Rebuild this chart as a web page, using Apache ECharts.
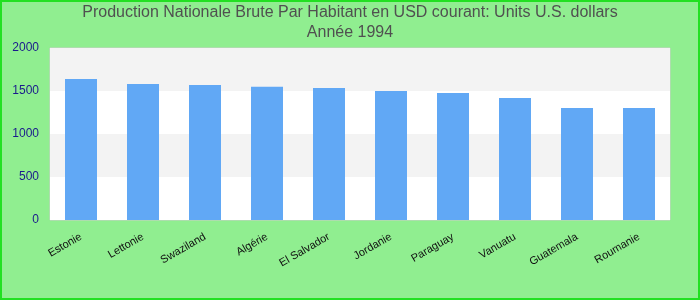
<!DOCTYPE html>
<html>
<head>
<meta charset="utf-8">
<script src="https://cdn.jsdelivr.net/npm/echarts@6/dist/echarts.min.js"></script>
<style>
html,body{margin:0;padding:0;background:#90ee90;}
#chart{width:700px;height:300px;}
</style>
</head>
<body>
<div id="chart"></div>
<script>
var categories = ['Estonie','Lettonie','Swaziland','Algérie','El Salvador','Jordanie','Paraguay','Vanuatu','Guatemala','Roumanie'];
var values = [1640, 1580, 1570, 1550, 1535, 1500, 1477, 1420, 1302, 1302];
var yTicks = [0, 500, 1000, 1500, 2000];
var titleLines = ['Production Nationale Brute Par Habitant en USD courant: Units U.S. dollars', 'Année 1994'];

var chart = echarts.init(document.getElementById('chart'), null, {renderer: 'canvas'});
chart.setOption({
  backgroundColor: '#90ee90',
  animation: false,
  title: {
    text: titleLines.join('\n'),
    left: 'center',
    top: 3,
    padding: 0,
    textStyle: {
      fontFamily: 'Liberation Sans',
      fontSize: 16,
      fontWeight: 'normal',
      color: '#505050',
      lineHeight: 20
    }
  },
  grid: {
    left: 50, right: 30, top: 48, bottom: 80,
    show: true,
    backgroundColor: '#ffffff',
    borderColor: '#cccccc',
    borderWidth: 1
  },
  xAxis: {
    type: 'category',
    data: categories,
    axisLine: {show: false},
    axisTick: {show: false},
    axisLabel: {
      rotate: 30,
      margin: 16,
      fontFamily: 'Liberation Sans',
      fontSize: 11,
      color: '#111111',
      interval: 0
    }
  },
  yAxis: {
    type: 'value',
    min: yTicks[0],
    max: yTicks[yTicks.length - 1],
    interval: 500,
    axisLine: {show: false},
    axisTick: {show: false},
    splitLine: {show: false},
    splitArea: {show: true, areaStyle: {color: ['#ffffff', '#f3f3f3']}},
    axisLabel: {
      margin: 11,
      fontFamily: 'Liberation Sans',
      fontSize: 12,
      color: '#1a1a8c',
      formatter: function (v) { return String(v); }
    }
  },
  series: [{
    type: 'bar',
    data: values,
    barWidth: 32,
    itemStyle: {color: '#61a8f5'}
  }],
  graphic: [{
    type: 'rect',
    shape: {x: 1, y: 1, width: 698, height: 298},
    style: {fill: 'none', stroke: '#22e022', lineWidth: 2},
    z: 100
  }]
});
</script>
</body>
</html>
